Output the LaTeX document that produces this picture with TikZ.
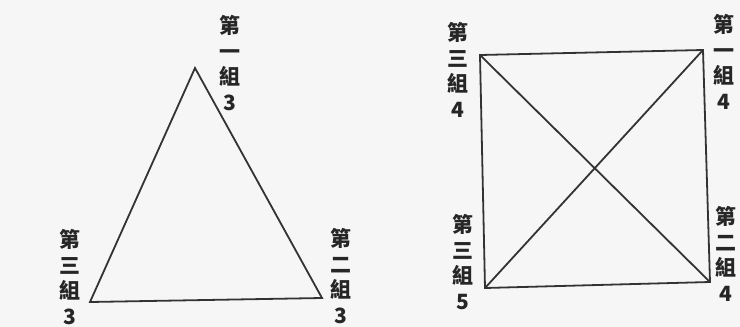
\documentclass[tikz,border=0pt]{standalone}
\usepackage{fontspec}
\newfontfamily\cjk{Noto Sans CJK TC}
\usetikzlibrary{calc}

\tikzset{
  side/.style={line width=1.8pt,black!80,line join=miter},
  tag/.style={font=\cjk\bfseries\fontsize{21}{25.5}\selectfont,align=center,inner sep=0pt,text=black!85},
}

\begin{document}
\begin{tikzpicture}[x=1pt,y=-1pt]
    \fill[gray!7] (0,0) rectangle (740,327);
    % triangle
        \coordinate (a1) at (195,68);
        \coordinate (a2) at (322,298);
        \coordinate (a3) at (90,302);
        \node[tag] (ta1) at (230,63) {第\\一\\組\\3};
        \node[tag] (ta2) at (341,276) {第\\二\\組\\3};
        \node[tag] (ta3) at (70,277) {第\\三\\組\\3};
        \draw[side] (a1) -- (a2) -- (a3) -- cycle;
    % square with diagonals
        \coordinate (b1) at (703,50);
        \coordinate (b2) at (710,282);
        \coordinate (b3) at (485,288);
        \coordinate (b4) at (480,55);
        \node[tag] (tb1) at (724,62) {第\\一\\組\\4};
        \node[tag] (tb2) at (726,254) {第\\二\\組\\4};
        \node[tag] (tb3) at (463,262) {第\\三\\組\\5};
        \node[tag] (tb4) at (458,70) {第\\三\\組\\4};
        \draw[side] (b1) -- (b2) -- (b3) -- (b4) -- cycle;
        \draw[side] (b4) -- (b2);
        \draw[side] (b3) -- (b1);
\end{tikzpicture}
\end{document}
